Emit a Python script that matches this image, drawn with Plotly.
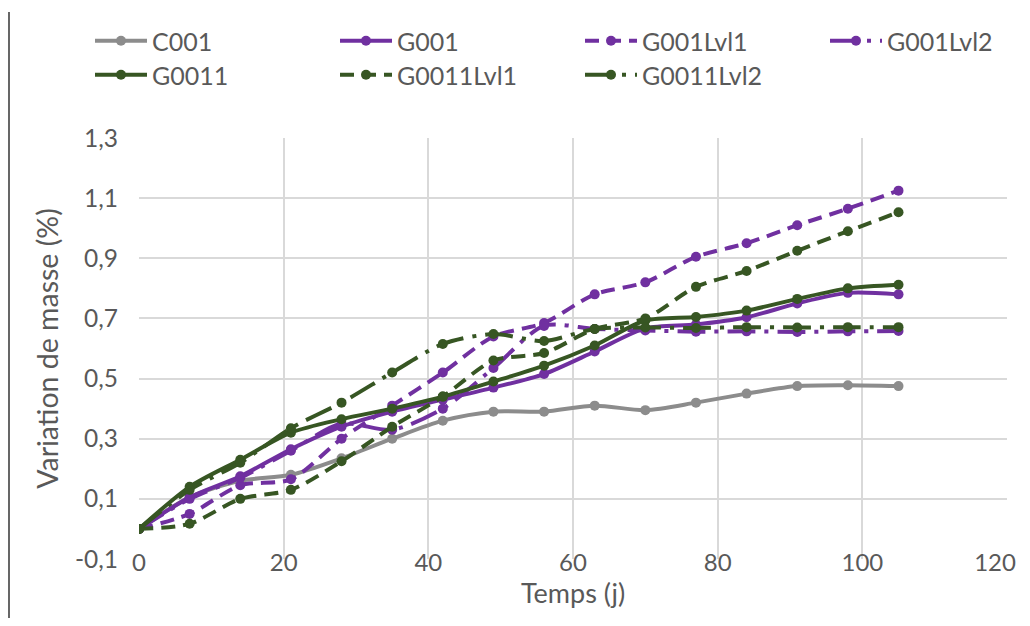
import plotly.graph_objects as go

days = [0, 7, 14, 21, 28, 35, 42, 49, 56, 63, 70, 77, 84, 91, 98, 105]

c001 = [0, 0.105, 0.16, 0.18, 0.235, 0.30, 0.36, 0.39, 0.39, 0.41, 0.395, 0.42, 0.45, 0.475, 0.478, 0.475]
g001 = [0, 0.105, 0.175, 0.265, 0.34, 0.39, 0.43, 0.47, 0.515, 0.59, 0.667, 0.68, 0.704, 0.75, 0.785, 0.78]
g001_lvl1 = [0, 0.05, 0.145, 0.165, 0.30, 0.41, 0.52, 0.64, 0.685, 0.78, 0.82, 0.905, 0.95, 1.01, 1.065, 1.125]
g001_lvl2 = [0, 0.10, 0.17, 0.26, 0.35, 0.33, 0.40, 0.535, 0.675, 0.665, 0.66, 0.656, 0.657, 0.655, 0.657, 0.658]
g0011 = [0, 0.14, 0.23, 0.32, 0.365, 0.40, 0.44, 0.49, 0.543, 0.61, 0.693, 0.705, 0.726, 0.765, 0.80, 0.812]
g0011_lvl1 = [0, 0.017, 0.10, 0.13, 0.225, 0.34, 0.44, 0.56, 0.585, 0.665, 0.70, 0.805, 0.858, 0.925, 0.99, 1.053]
g0011_lvl2 = [0, 0.13, 0.22, 0.335, 0.42, 0.52, 0.615, 0.648, 0.625, 0.665, 0.67, 0.668, 0.671, 0.67, 0.671, 0.671]

names = ["C001", "G001", "G001Lvl1", "G001Lvl2", "G0011", "G0011Lvl1", "G0011Lvl2"]
series = [c001, g001, g001_lvl1, g001_lvl2, g0011, g0011_lvl1, g0011_lvl2]
legend_rows = ["legend", "legend", "legend", "legend", "legend2", "legend2", "legend2"]

y_tickvals = [-0.1, 0.1, 0.3, 0.5, 0.7, 0.9, 1.1, 1.3]
y_ticktext = ["-0,1", "0,1", "0,3", "0,5", "0,7", "0,9", "1,1", "1,3"]
x_tickvals = [0, 20, 40, 60, 80, 100, 120]
x_ticktext = ["0", "20", "40", "60", "80", "100", ""]
# the last label is pulled inward to stay inside the chart, as in the original
x_edge_tickvals = [120]
x_edge_ticktext = ["120"]

GRAY = "#8c8c8c"
PURPLE = "#7030a0"
GREEN = "#375623"
colors = [GRAY, PURPLE, PURPLE, PURPLE, GREEN, GREEN, GREEN]
dashes = ["solid", "solid", "14px,8px", "28px,9px,4px,9px", "solid", "14px,8px", "28px,9px,4px,9px"]

FONT = "Lato"
TXT = "#595959"

fig = go.Figure()
for name, ys, col, dash, lg in zip(names, series, colors, dashes, legend_rows):
    fig.add_trace(go.Scatter(
        x=days, y=ys, name=name, mode="lines+markers", legend=lg,
        line=dict(color=col, width=4, dash=dash, shape="spline", smoothing=0.8),
        marker=dict(color=col, size=10),
    ))
# empty helper trace so the overlay axis carrying the edge label is drawn
fig.add_trace(go.Scatter(x=[], y=[], xaxis="x2", yaxis="y", showlegend=False,
                         hoverinfo="skip", mode="markers"))

# page body has an 8px margin, so the figure is sized and placed to compensate
OFF = 8
W, H = 1030 - OFF, 626 - 2 * OFF
L, T = 139 - OFF, 138 - OFF
R = W - (1007 - OFF)
B = H - (559 - OFF)
pw, ph = W - L - R, H - T - B

def legend_row(top_px):
    return dict(
        orientation="h", xref="paper", yref="paper",
        x=(90 - OFF - L) / pw, y=1 + (T - (top_px - OFF)) / ph,
        xanchor="left", yanchor="top",
        entrywidth=178, entrywidthmode="pixels",
        itemwidth=52, tracegroupgap=0,
        font=dict(family=FONT, color=TXT, size=25),
        bgcolor="rgba(0,0,0,0)",
    )

fig.update_layout(
    width=W, height=H,
    margin=dict(l=L, r=R, t=T, b=B, autoexpand=False),
    paper_bgcolor="white", plot_bgcolor="white",
    font=dict(family=FONT, color=TXT, size=24),
    legend=legend_row(18),
    legend2=legend_row(52),
    xaxis=dict(
        range=[0, 120], tickvals=x_tickvals, ticktext=x_ticktext, automargin=False,
        showgrid=True, gridcolor="#d9d9d9", gridwidth=1.5,
        zeroline=False, showline=False, ticks="",
        ticklabelstandoff=-13,
        title=dict(text="Temps (j)", font=dict(size=27, color=TXT), standoff=5),
        tickfont=dict(size=24, color=TXT),
    ),
    xaxis2=dict(
        range=[0, 120], overlaying="x", anchor="y", side="bottom",
        tickvals=x_edge_tickvals, ticktext=x_edge_ticktext, automargin=False,
        showgrid=False, zeroline=False, showline=False, ticks="",
        ticklabelstandoff=-13, ticklabelshift=-12, ticklabeloverflow="allow",
        tickfont=dict(size=24, color=TXT),
    ),
    yaxis=dict(
        range=[-0.1, 1.3], tickvals=y_tickvals, ticktext=y_ticktext, automargin=False,
        showgrid=True, gridcolor="#d9d9d9", gridwidth=1.5,
        zeroline=False, showline=False, ticks="",
        ticklabelstandoff=20,
        title=dict(text="Variation de masse (%)", font=dict(size=28.5, color=TXT), standoff=7),
        tickfont=dict(size=24.5, color=TXT),
    ),
    shapes=[dict(
        type="line", xref="paper", yref="paper",
        x0=(9 - OFF - L) / pw, x1=(9 - OFF - L) / pw,
        y0=-B / ph - 0.05, y1=1 + (T - 4) / ph,
        line=dict(color="black", width=1.2),
    )],
)

fig.write_html("out.html")
